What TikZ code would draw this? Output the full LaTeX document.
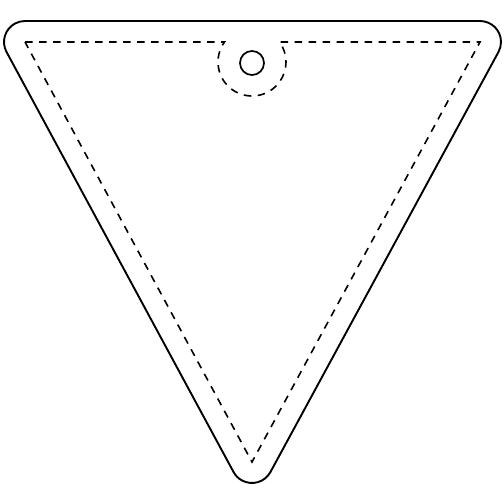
\documentclass[tikz,border=0pt]{standalone}
\usetikzlibrary{calc}
\begin{document}
\begin{tikzpicture}[x=1pt,y=1pt,
  outline/.style={line width=1.9pt, line join=round},
  cutline/.style={line width=1.6pt, dash pattern=on 7.5pt off 6.5pt},
  hole/.style={line width=1.7pt}]
\fill[white] (0,0) rectangle (504,504);
\useasboundingbox (0,0) rectangle (504,504);
\coordinate (A) at (25,462);
\coordinate (B) at (480,462);
\coordinate (C) at (252,42);
\coordinate (H) at (252,441);
\draw[outline] ($(A)+(0,21)$) -- ($(B)+(0,21)$)
  arc[start angle=90, end angle=-28.49, radius=21]
  -- ($(C)+(-28.49:21)$)
  arc[start angle=-28.49, end angle=-151.61, radius=21]
  -- ($(A)+(-151.61:21)$)
  arc[start angle=-151.61, end angle=-270, radius=21] -- cycle;
\draw[cutline] (A) -- (224.5,462) arc[start angle=144, end angle=396, radius=34] -- (B) -- (C) -- cycle;
\node[draw, circle, hole, minimum size=24pt, inner sep=0pt] (hole) at (H) {};
\end{tikzpicture}
\end{document}
